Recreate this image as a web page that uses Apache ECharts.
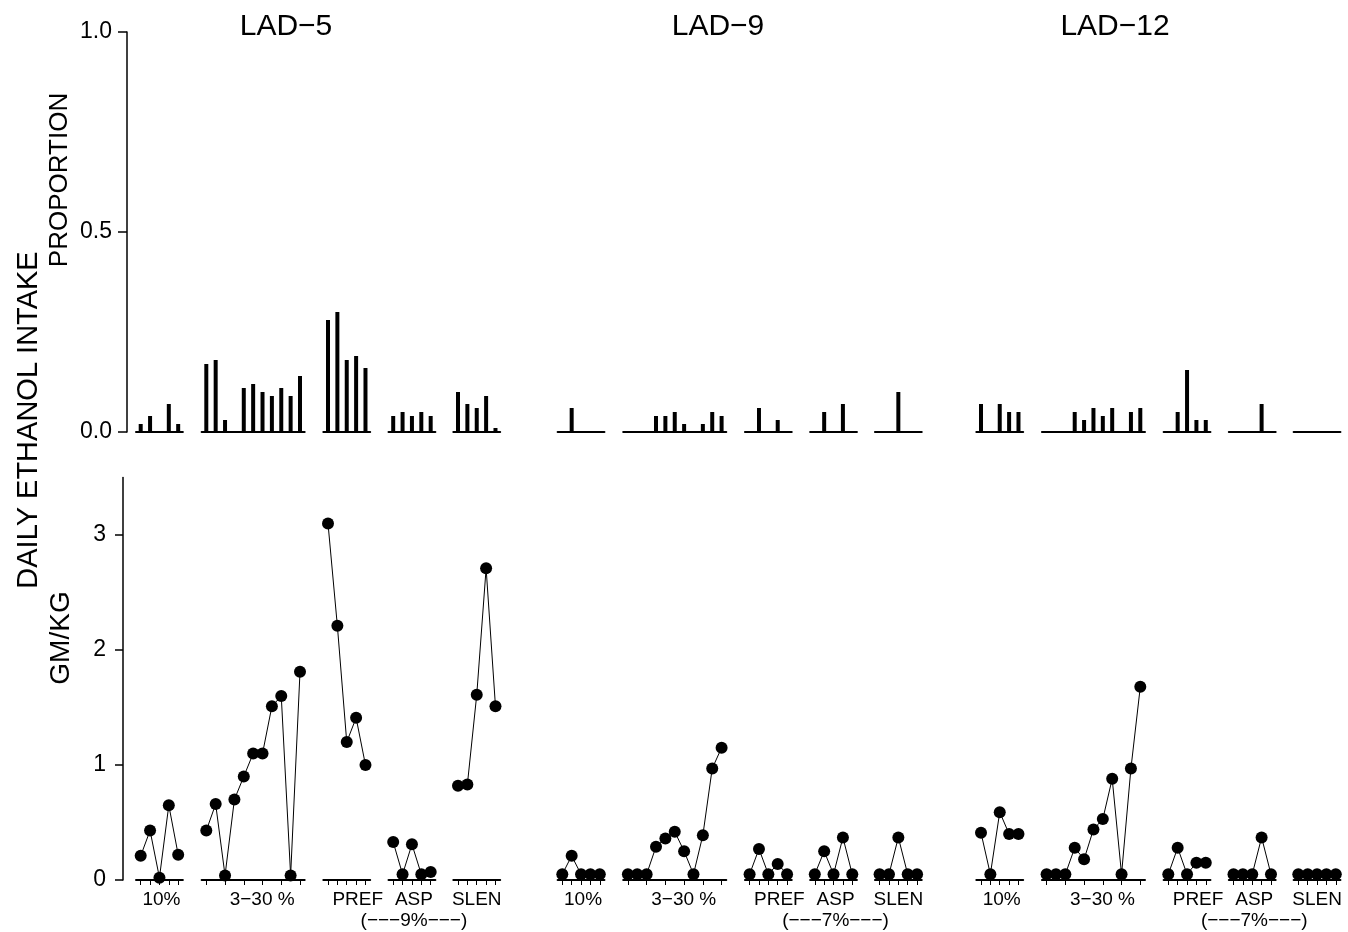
<!DOCTYPE html>
<html>
<head>
<meta charset="utf-8">
<title>Daily ethanol intake</title>
<script src="https://cdn.jsdelivr.net/npm/echarts@6/dist/echarts.min.js"></script>
<style>
  html, body { margin: 0; padding: 0; background: #fff; }
  #chart { width: 1348px; height: 932px; }
</style>
</head>
<body>
<div id="chart"></div>
<script>
// groups / segments
const groups = ['LAD−5', 'LAD−9', 'LAD−12']
const segments = ['10%', '3−30 %', 'PREF', 'ASP', 'SLEN']
const concentrations = ['9%', '7%', '7%']
const propTicks = [0, 0.5, 1]
const doseTicks = [0, 1, 2, 3]

// proportion (top panel)
const lad5Prop10   = [0.02, 0.04, 0, 0.07, 0.02]
const lad5Prop330  = [0.17, 0.18, 0.03, 0, 0.11, 0.12, 0.10, 0.09, 0.11, 0.09, 0.14]
const lad5PropPref = [0.28, 0.30, 0.18, 0.19, 0.16]
const lad5PropAsp  = [0.04, 0.05, 0.04, 0.05, 0.04]
const lad5PropSlen = [0.10, 0.07, 0.06, 0.09, 0.01]

const lad9Prop10   = [0, 0.06, 0, 0, 0]
const lad9Prop330  = [0, 0, 0, 0.04, 0.04, 0.05, 0.02, 0, 0.02, 0.05, 0.04]
const lad9PropPref = [0, 0.06, 0, 0.03, 0]
const lad9PropAsp  = [0, 0.05, 0, 0.07, 0]
const lad9PropSlen = [0, 0, 0.10, 0, 0]

const lad12Prop10   = [0.07, 0, 0.07, 0.05, 0.05]
const lad12Prop330  = [0, 0, 0, 0.05, 0.03, 0.06, 0.04, 0.06, 0, 0.05, 0.06]
const lad12PropPref = [0, 0.05, 0.155, 0.03, 0.03]
const lad12PropAsp  = [0, 0, 0, 0.07, 0]
const lad12PropSlen = [0, 0, 0, 0, 0]

// gm/kg (bottom panel)
const lad5Dose10   = [0.21, 0.43, 0.02, 0.65, 0.22]
const lad5Dose330  = [0.43, 0.66, 0.04, 0.70, 0.90, 1.10, 1.10, 1.51, 1.60, 0.04, 1.81]
const lad5DosePref = [3.10, 2.21, 1.20, 1.41, 1.00]
const lad5DoseAsp  = [0.33, 0.05, 0.31, 0.05, 0.07]
const lad5DoseSlen = [0.82, 0.83, 1.61, 2.71, 1.51]

const lad9Dose10   = [0.05, 0.21, 0.05, 0.05, 0.05]
const lad9Dose330  = [0.05, 0.05, 0.05, 0.29, 0.36, 0.42, 0.25, 0.05, 0.39, 0.97, 1.15]
const lad9DosePref = [0.05, 0.27, 0.05, 0.14, 0.05]
const lad9DoseAsp  = [0.05, 0.25, 0.05, 0.37, 0.05]
const lad9DoseSlen = [0.05, 0.05, 0.37, 0.05, 0.05]

const lad12Dose10   = [0.41, 0.05, 0.59, 0.40, 0.40]
const lad12Dose330  = [0.05, 0.05, 0.05, 0.28, 0.18, 0.44, 0.53, 0.88, 0.05, 0.97, 1.68]
const lad12DosePref = [0.05, 0.28, 0.05, 0.15, 0.15]
const lad12DoseAsp  = [0.05, 0.05, 0.05, 0.37, 0.05]
const lad12DoseSlen = [0.05, 0.05, 0.05, 0.05, 0.05]

const proportion = [
    [lad5Prop10, lad5Prop330, lad5PropPref, lad5PropAsp, lad5PropSlen],
    [lad9Prop10, lad9Prop330, lad9PropPref, lad9PropAsp, lad9PropSlen],
    [lad12Prop10, lad12Prop330, lad12PropPref, lad12PropAsp, lad12PropSlen]
]
const gmPerKg = [
    [lad5Dose10, lad5Dose330, lad5DosePref, lad5DoseAsp, lad5DoseSlen],
    [lad9Dose10, lad9Dose330, lad9DosePref, lad9DoseAsp, lad9DoseSlen],
    [lad12Dose10, lad12Dose330, lad12DosePref, lad12DoseAsp, lad12DoseSlen]
]

// layout (px)
const STEP = 9.37
const GROUP_X = [140.7, 562.3, 981]
const SEG_DX = [0, 65.6, 187.3, 252.5, 317.3]
const NAME_SHIFT = [2, 9, 11, 2, 0]
const TOP = { top: 32, height: 400 }
const BOT = { top: 477.5, height: 402.5 }
const FONT = 'Liberation Sans'
const INK = '#000'

const grids = [], xAxes = [], yAxes = [], series = []

function addGrid (grid, xAxis, yAxis) {
    const i = grids.length
    grids.push(grid)
    xAxes.push(Object.assign({ gridIndex: i }, xAxis))
    yAxes.push(Object.assign({ gridIndex: i }, yAxis))
    return i
}

// frame axes (left)
addGrid({ left: 127, top: TOP.top, height: TOP.height, width: 1 },
    { type: 'value', show: false, min: 0, max: 1 },
    {
        type: 'value', min: 0, max: 1, interval: 0.5,
        axisLine: { show: true, lineStyle: { color: INK, width: 1.5 } },
        axisTick: { show: true, length: 9, lineStyle: { color: INK, width: 1.5 }, customValues: propTicks },
        axisLabel: { color: INK, fontSize: 23, fontFamily: FONT, margin: 15, formatter: v => v.toFixed(1), customValues: propTicks },
        splitLine: { show: false }
    })
addGrid({ left: 123, top: BOT.top, height: BOT.height, width: 1 },
    { type: 'value', show: false, min: 0, max: 1 },
    {
        type: 'value', min: 0, max: 3.5,
        axisLine: { show: true, lineStyle: { color: INK, width: 1.5 } },
        axisTick: { show: true, length: 8, lineStyle: { color: INK, width: 1.5 }, customValues: doseTicks },
        axisLabel: { color: INK, fontSize: 23, fontFamily: FONT, margin: 17, customValues: doseTicks },
        splitLine: { show: false }
    })

groups.forEach((gName, g) => {
    segments.forEach((sName, s) => {
        const prop = proportion[g][s]
        const dose = gmPerKg[g][s]
        const n = dose.length
        const cats = dose.map((_, i) => String(i + 1))
        const left = GROUP_X[g] + SEG_DX[s] - STEP / 2
        const width = n * STEP

        // top: bars
        let i = addGrid({ left, width, top: TOP.top, height: TOP.height },
            {
                type: 'category', data: cats, boundaryGap: true,
                axisLine: { lineStyle: { color: INK, width: 2 } },
                axisTick: { show: false }, axisLabel: { show: false }
            },
            { type: 'value', min: 0, max: 1, show: false })
        series.push({
            type: 'bar', xAxisIndex: i, yAxisIndex: i, data: prop,
            barWidth: 4, itemStyle: { color: INK }, silent: true
        })

        // bottom: dots and lines
        let name = sName
        if (s === 3) name = sName + '\n(−−−' + concentrations[g] + '−−−)'
        i = addGrid({ left, width, top: BOT.top, height: BOT.height },
            {
                type: 'category', data: cats, boundaryGap: true,
                axisLine: { lineStyle: { color: INK, width: 2 } },
                axisTick: { show: true, alignWithLabel: true, length: 5, lineStyle: { color: INK, width: 1 } },
                axisLabel: { show: false },
                name, nameLocation: 'middle', nameGap: 9,
                nameTextStyle: {
                    color: INK, fontSize: 19, fontFamily: FONT, lineHeight: 21,
                    padding: [0, 0, 0, NAME_SHIFT[s] * 2]
                }
            },
            { type: 'value', min: 0, max: 3.5, show: false })
        series.push({
            type: 'line', xAxisIndex: i, yAxisIndex: i, data: dose,
            symbol: 'circle', symbolSize: 12, showSymbol: true, showAllSymbol: true,
            clip: false, silent: true,
            lineStyle: { color: INK, width: 1 }, itemStyle: { color: INK }
        })
    })
})

const titleX = [286, 718, 1115]
const graphic = groups.map((gName, g) => ({
    type: 'text', x: titleX[g], y: 27,
    style: { text: gName, fill: INK, fontSize: 30, fontFamily: FONT, align: 'center', verticalAlign: 'middle' }
}))
graphic.push(
    { type: 'text', x: 29, y: 420, rotation: Math.PI / 2,
      style: { text: 'DAILY ETHANOL INTAKE', fill: INK, fontSize: 29, fontFamily: FONT, align: 'center', verticalAlign: 'middle' } },
    { type: 'text', x: 60, y: 180, rotation: Math.PI / 2,
      style: { text: 'PROPORTION', fill: INK, fontSize: 26, fontFamily: FONT, align: 'center', verticalAlign: 'middle' } },
    { type: 'text', x: 61, y: 638, rotation: Math.PI / 2,
      style: { text: 'GM/KG', fill: INK, fontSize: 28, fontFamily: FONT, align: 'center', verticalAlign: 'middle' } }
)

const ec = echarts.init(document.getElementById('chart'), null, { renderer: 'canvas' })
ec.setOption({
    animation: false,
    backgroundColor: '#fff',
    grid: grids,
    xAxis: xAxes,
    yAxis: yAxes,
    series,
    graphic
})
</script>
</body>
</html>
